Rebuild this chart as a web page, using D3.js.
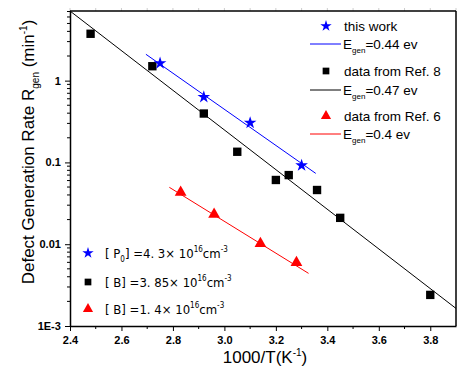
<!DOCTYPE html>
<html><head><meta charset="utf-8">
<script src="https://cdn.jsdelivr.net/npm/d3@7/dist/d3.min.js"></script>
<style>body{margin:0;background:#fff}svg{display:block}</style>
</head><body>
<script>
// Data
const starX = [2.75, 2.92, 3.10, 3.30];
const starY = [1.63, 0.63, 0.305, 0.092];
const sqX = [2.48, 2.72, 2.92, 3.05, 3.20, 3.25, 3.36, 3.45, 3.80];
const sqY = [3.74, 1.5, 0.396, 0.135, 0.061, 0.070, 0.046, 0.021, 0.0024];
const triX = [2.83, 2.96, 3.14, 3.28];
const triY = [0.042, 0.0226, 0.0099, 0.0058];
const blueFitX = [2.695, 3.355];
const blueFitY = [2.1, 0.0734];
const blackFitX = [2.4, 3.9];
const blackFitY = [7.1, 0.00164];
const redFitX = [2.786, 3.327];
const redFitY = [0.0496, 0.0044];
const xTicks = [2.4, 2.6, 2.8, 3.0, 3.2, 3.4, 3.6, 3.8];
const yTicks = [0.001, 0.01, 0.1, 1];
const yTickLabels = ["1E-3", "0.01", "0.1", "1"];

const W = 457, H = 376;
const m = {l: 70, r: 1, t: 11, b: 50};
const svg = d3.select("body").append("svg").attr("width", W).attr("height", H);
const x = d3.scaleLinear().domain([2.4, 3.9]).range([m.l, W - m.r]);
const y = d3.scaleLog().domain([0.001, 7.1]).range([H - m.b, m.t]);

// top faint ticks
const minorX = d3.range(2.4, 3.91, 0.1);
svg.append("g").selectAll("line").data(minorX).join("line")
  .attr("x1", d => x(d)).attr("x2", d => x(d))
  .attr("y1", m.t).attr("y2", m.t - 3)
  .attr("stroke", "#ccc").attr("stroke-width", 1);

// x axis
const xa = svg.append("g").attr("transform", `translate(0,${H - m.b})`);
xa.call(d3.axisBottom(x).tickValues(xTicks).tickFormat(d3.format(".1f")).tickSize(5).tickSizeOuter(0));
xa.append("g").selectAll("line").data(d3.range(2.5, 3.9, 0.2)).join("line")
  .attr("x1", d => x(d)).attr("x2", d => x(d)).attr("y1", 0).attr("y2", 3).attr("stroke", "#000");
xa.selectAll("text").attr("font-family", "Liberation Sans, Arial, sans-serif").attr("font-weight", "bold")
  .attr("font-size", 11).attr("fill", "#000").attr("dy", "0.95em");
xa.select(".domain").attr("stroke-width", 1.5);

// y axis
const ya = svg.append("g").attr("transform", `translate(${m.l},0)`);
ya.call(d3.axisLeft(y).tickValues(yTicks).tickFormat((d, i) => yTickLabels[i]).tickSize(5).tickSizeOuter(0));
const minorY = [];
[0.001, 0.01, 0.1, 1].forEach(dec => { for (let k = 2; k <= 9; k++) if (dec * k <= 7.1) minorY.push(dec * k); });
ya.append("g").selectAll("line").data(minorY).join("line")
  .attr("x1", 0).attr("x2", -3).attr("y1", d => y(d)).attr("y2", d => y(d)).attr("stroke", "#000");
ya.selectAll("text").attr("font-family", "Liberation Sans, Arial, sans-serif").attr("font-weight", "bold")
  .attr("font-size", 11).attr("fill", "#000").attr("dx", "-0.1em");
ya.select(".domain").attr("stroke-width", 1.5);

// frame top/right
svg.append("line").attr("x1", m.l).attr("x2", W - m.r).attr("y1", m.t).attr("y2", m.t).attr("stroke", "#000").attr("stroke-width", 1.5);
svg.append("line").attr("x1", W - m.r).attr("x2", W - m.r).attr("y1", m.t).attr("y2", H - m.b).attr("stroke", "#000").attr("stroke-width", 1.5);

// fit lines
function fit(xs, ys, color) {
  svg.append("line").attr("x1", x(xs[0])).attr("y1", y(ys[0])).attr("x2", x(xs[1])).attr("y2", y(ys[1]))
    .attr("stroke", color).attr("stroke-width", 1);
}
fit(blackFitX, blackFitY, "#000");
fit(blueFitX, blueFitY, "#0000ff");
fit(redFitX, redFitY, "#ff0000");

const star = d3.symbol().type(d3.symbolStar).size(50);
const sq = d3.symbol().type(d3.symbolSquare).size(70);
const tri = d3.symbol().type(d3.symbolTriangle).size(60);

svg.append("g").selectAll("path").data(sqX).join("path")
  .attr("d", sq).attr("transform", (d, i) => `translate(${x(d)},${y(sqY[i])})`).attr("fill", "#000");
svg.append("g").selectAll("path").data(starX).join("path")
  .attr("d", star).attr("transform", (d, i) => `translate(${x(d)},${y(starY[i])})`).attr("fill", "#0000ff");
svg.append("g").selectAll("path").data(triX).join("path")
  .attr("d", tri).attr("transform", (d, i) => `translate(${x(d)},${y(triY[i]) - 1})`).attr("fill", "#ff0000");

// Legend top right
const lf = "Liberation Sans, Arial, sans-serif";
const leg = svg.append("g").attr("font-family", lf).attr("font-size", 13.5).attr("fill", "#000");
function legRow(sym, color, yy, label) {
  leg.append("path").attr("d", sym).attr("transform", `translate(326,${yy})`).attr("fill", color);
  leg.append("text").attr("x", 344).attr("y", yy + 4.5).text(label);
}
function legLine(color, yy, val) {
  leg.append("line").attr("x1", 310).attr("x2", 341).attr("y1", yy).attr("y2", yy).attr("stroke", color).attr("stroke-width", 1);
  const t = leg.append("text").attr("x", 343).attr("y", yy + 4.5);
  t.append("tspan").text("E");
  t.append("tspan").attr("font-size", 8).attr("dy", 4).text("gen");
  t.append("tspan").attr("dy", -4).text("=" + val + " ev");
}
legRow(d3.symbol().type(d3.symbolStar).size(40), "#0000ff", 26, "this work");
legLine("#0000ff", 44, "0.44");
legRow(d3.symbol().type(d3.symbolSquare).size(45), "#000", 71, "data from Ref. 8");
legLine("#000", 90, "0.47");
legRow(d3.symbol().type(d3.symbolTriangle).size(45), "#ff0000", 116, "data from Ref. 6");
legLine("#ff0000", 134, "0.4");

// Legend bottom left
const bl = svg.append("g").attr("font-family", "DejaVu Sans Condensed, DejaVu Sans, sans-serif")
  .attr("font-stretch", "condensed").attr("font-size", 13).attr("fill", "#000");
function blRow(sym, color, yy, parts) {
  bl.append("path").attr("d", sym).attr("transform", `translate(88,${yy})`).attr("fill", color);
  const t = bl.append("text").attr("x", 105).attr("y", yy + 5);
  parts.forEach(p => {
    t.append("tspan").attr("font-size", p[1]).attr("dy", p[2]).text(p[0]);
  });
}
blRow(d3.symbol().type(d3.symbolStar).size(40), "#0000ff", 253,
  [["[ P", 13, 0], ["0", 8, 4], ["] =4. 3× 10", 13, -4], ["16", 8, -6], ["cm", 13, 6], ["-3", 8, -6]]);
blRow(d3.symbol().type(d3.symbolSquare).size(45), "#000", 282,
  [["[ B] =3. 85× 10", 13, 0], ["16", 8, -6], ["cm", 13, 6], ["-3", 8, -6]]);
blRow(d3.symbol().type(d3.symbolTriangle).size(45), "#ff0000", 309,
  [["[ B] =1. 4× 10", 13, 0], ["16", 8, -6], ["cm", 13, 6], ["-3", 8, -6]]);

// Axis titles
const xt = svg.append("text").attr("x", 265).attr("y", 363).attr("text-anchor", "middle")
  .attr("font-family", lf).attr("font-size", 17).attr("fill", "#000");
xt.append("tspan").text("1000/T(K");
xt.append("tspan").attr("font-size", 10).attr("dy", -7).text("-1");
xt.append("tspan").attr("dy", 7).text(")");

const yt = svg.append("text").attr("transform", "translate(34,152) rotate(-90)").attr("text-anchor", "middle")
  .attr("font-family", lf).attr("font-size", 17).attr("fill", "#000");
yt.append("tspan").text("Defect Generation Rate R");
yt.append("tspan").attr("font-size", 10).attr("dy", 5).text("gen");
yt.append("tspan").attr("dy", -5).text("  (min");
yt.append("tspan").attr("font-size", 10).attr("dy", -7).text("-1");
yt.append("tspan").attr("dy", 7).text(")");
</script>
</body></html>
